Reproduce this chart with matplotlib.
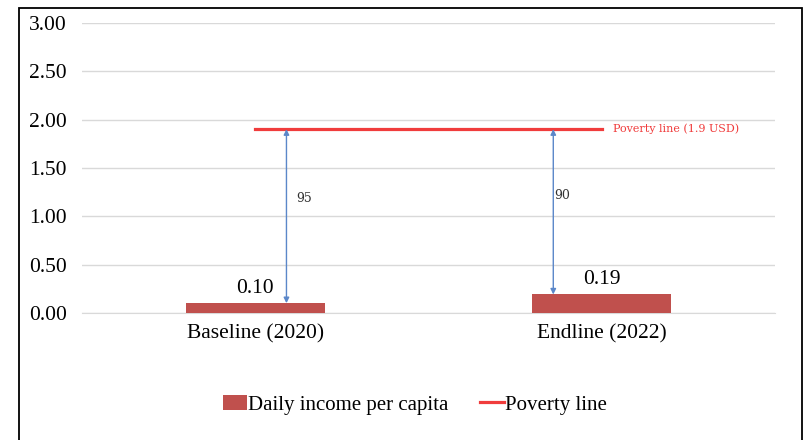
import matplotlib.pyplot as plt
from matplotlib.patches import Rectangle

categories = ["Baseline (2020)", "Endline (2022)"]
daily_income = [0.10, 0.19]
poverty_line = 1.9
gap_pct = [95, 90]
yticks = [0.0, 0.5, 1.0, 1.5, 2.0, 2.5, 3.0]

plt.rcParams['font.family'] = ['Liberation Serif', 'DejaVu Serif']

fig = plt.figure(figsize=(8.04, 4.4), dpi=100)
ax = fig.add_axes([0.102, 0.289, 0.862, 0.659])

x = list(range(len(categories)))
bars = ax.bar(x, daily_income, width=0.4, color='#C0504D', zorder=3,
              label='Daily income per capita')
line, = ax.plot(x, [poverty_line] * len(x), color='#F03C3C', lw=2.3, zorder=4,
                label='Poverty line')

# value labels above bars
for xi, v in zip(x, daily_income):
    ax.annotate(f"{v:.2f}", (xi, v), xytext=(0, 4), textcoords='offset points',
                ha='center', va='bottom', fontsize=15.5)

# gap arrows between income and poverty line
arrow_x = [0.09, 0.86]
label_dx = [0.025, 0.0]
label_y = [1.18, 1.21]
for ax_x, v, pct, dx, ly in zip(arrow_x, daily_income, gap_pct, label_dx, label_y):
    ax.annotate('', xy=(ax_x, v), xytext=(ax_x, poverty_line),
                arrowprops=dict(arrowstyle='<|-|>', color='#5B87C9', lw=1.0,
                                mutation_scale=8, shrinkA=0, shrinkB=0),
                zorder=5)
    ax.text(ax_x + dx + 0.003, ly, str(pct), fontsize=9, color='#333333',
            va='center', ha='left', family=['DejaVu Serif'])

ax.text(1.032, poverty_line, "Poverty line (1.9 USD)", color='#F03C3C',
        fontsize=8, va='center', ha='left', family=['DejaVu Serif'])

ax.set_xlim(-0.5, 1.5)
ax.set_ylim(0, 3.0)
ax.set_yticks(yticks)
ax.set_yticklabels([f"{t:.2f}" for t in yticks], fontsize=15.5)
ax.set_xticks(x)
ax.set_xticklabels(categories, fontsize=15.5)
ax.tick_params(axis='y', length=0, pad=11)
ax.tick_params(axis='x', length=0, pad=8)
ax.grid(axis='y', color='#D9D9D9', lw=1, zorder=0)
for s in ['top', 'right', 'left']:
    ax.spines[s].set_visible(False)
ax.spines['bottom'].set_color('#D9D9D9')

fig.legend(handles=[bars, line], loc='center', bbox_to_anchor=(0.516, 0.08),
           ncol=2, frameon=False, fontsize=15, handlelength=1.15,
           handletextpad=0.05, columnspacing=1.5)

# outer frame
fig.patches.append(Rectangle((0.0236, -0.05), 0.974, 1.032, transform=fig.transFigure,
                             fill=False, edgecolor='black', lw=1.3))

fig.savefig('out.png', dpi=100)
